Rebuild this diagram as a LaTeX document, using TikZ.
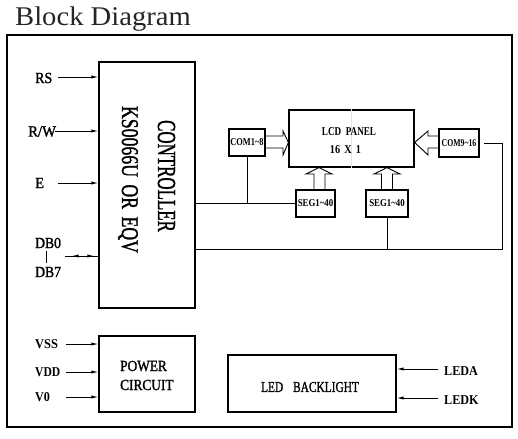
\documentclass[tikz,border=0pt]{standalone}
\usepackage{fontspec}
\setmainfont{Liberation Serif}
\newfontfamily\semib[FakeBold=1.5]{Liberation Serif}
\usepackage{graphicx}
\usetikzlibrary{arrows.meta,decorations.markings}
\newcommand\sx[2]{\scalebox{#1}[1]{#2}}
\begin{document}
\begin{tikzpicture}[x=1pt,y=-1pt,
  box/.style={draw,line width=1.2pt,inner sep=0},
  wire/.style={line width=0.9pt},
  tipA/.tip={Latex[length=7pt,width=3.2pt]},
  inarrow/.style={wire,-tipA},
  txt/.style={inner sep=0},
  biglbl/.style={txt,anchor=west,font=\fontsize{15.5}{15.5}\semib},
  boldlbl/.style={txt,anchor=west,font=\fontsize{13.5}{13.5}\selectfont\bfseries},
  smalllbl/.style={txt,font=\fontsize{10.5}{10.5}\selectfont\bfseries},
  hollow/.style={line width=0.9pt}
]
\useasboundingbox (0,0) rectangle (518,438);
% title
\node[anchor=base west,inner sep=0,font=\fontsize{27}{27}\selectfont,text=black!85] (title) at (15,26) {\sx{1.06}{Block Diagram}};
% frame
\node[draw,line width=1.4pt,inner sep=0,minimum width=505pt,minimum height=392pt] (frame) at (259.5,231) {};

% controller
\node[box,minimum width=96pt,minimum height=246pt] (ctrl) at (147,185) {};
\node[txt,rotate=-90,anchor=base,font=\fontsize{26}{26}\semib] (ctrlA) at (158,176) {\sx{0.65}{CONTROLLER}};
\node[txt,rotate=-90,anchor=base,font=\fontsize{24}{24}\semib] (ctrlB) at (122,179.5) {\sx{0.74}{KS0066U\hspace{10pt}OR\hspace{10pt}EQV}};

% LCD panel
\node[box,minimum width=125pt,minimum height=57pt] (lcd) at (351.5,138.5) {};
\draw[yellow!70!orange!50,line width=0.8pt] (lcd.north) -- (lcd.south);
\node[txt,font=\fontsize{12}{12}\selectfont\bfseries] (lcdA) at (349,132) {\sx{0.76}{LCD\hspace{6pt}PANEL}};
\node[txt,font=\fontsize{12}{12}\selectfont\bfseries] (lcdB) at (345.5,150) {\sx{0.85}{16\hspace{5pt}X\hspace{5pt}1}};

% COM / SEG boxes
\node[box,minimum width=36pt,minimum height=27pt] (com1) at (247,142.5) {};
\node[smalllbl] at (com1) {\sx{0.8}{COM1\textasciitilde 8}};
\node[box,minimum width=40pt,minimum height=28pt] (com9) at (459,143) {};
\node[smalllbl] at (com9) {\sx{0.74}{COM9\textasciitilde 16}};
\node[box,minimum width=39pt,minimum height=27pt] (seg1) at (315.5,203.5) {};
\node[smalllbl] at (seg1) {\sx{0.84}{SEG1\textasciitilde 40}};
\node[box,minimum width=42pt,minimum height=27pt] (seg2) at (387,203.5) {};
\node[smalllbl] at (seg2) {\sx{0.84}{SEG1\textasciitilde 40}};

% hollow arrows
\draw[hollow] (com1.east |- 0,136) -- (283,136) -- (283,131) -- (lcd.west |- 0,142.5) -- (283,155) -- (283,148) -- (com1.east |- 0,148);
\draw[hollow] (com9.west |- 0,136) -- (428,136) -- (428,131) -- (lcd.east |- 0,142.5) -- (428,155) -- (428,148) -- (com9.west |- 0,148);
\draw[hollow] (314,0 |- seg1.north) -- (314,174) -- (306,174) -- (319,0 |- lcd.south) -- (332,174) -- (325,174) -- (325,0 |- seg1.north);
\draw[hollow] (381.5,0 |- seg2.north) -- (381.5,174) -- (374,174) -- (387,0 |- lcd.south) -- (400,174) -- (392.5,174) -- (392.5,0 |- seg2.north);

% wires
\draw[wire] (ctrl.east |- seg1.west) -- (seg1.west);
\draw[wire] (com1.south) -- (com1.south |- seg1.west);
\coordinate (bus) at (502,249);
\draw[wire] (ctrl.east |- bus) -- (bus) -- (bus |- com9.east) -- ([xshift=4pt]com9.east);
\draw[wire] (seg2.south) -- (seg2.south |- bus);

% controller inputs
\coordinate (rsS) at (58,77);
\coordinate (rwS) at (55,131);
\coordinate (eS) at (58,183);
\coordinate (dbS) at (65,256);
\draw[inarrow] (rsS) -- (rsS -| ctrl.west);
\draw[inarrow] (rwS) -- (rwS -| ctrl.west);
\draw[inarrow] (eS) -- (eS -| ctrl.west);
\draw[wire,postaction={decorate},decoration={markings,
  mark=at position 0.2 with {\arrowreversed{tipA}},
  mark=at position 0.88 with {\arrow{tipA}}}] (dbS) -- (dbS -| ctrl.west);
\node[biglbl] (rs) at (35,78) {\sx{0.9}{RS}};
\node[biglbl] (rw) at (28,131.5) {\sx{0.95}{R/W}};
\node[biglbl] (e) at (35,183) {\sx{0.93}{E}};
\node[biglbl] (db0) at (35,243) {\sx{0.88}{DB0}};
\node[biglbl] (db7) at (35,272) {\sx{0.88}{DB7}};
\draw[line width=0.8pt] (46,251) -- (46,263);

% power circuit
\node[box,minimum width=96pt,minimum height=76pt] (power) at (147,374) {};
\node[biglbl] (pA) at (120,366) {\sx{0.86}{POWER}};
\node[biglbl] (pB) at (120,385) {\sx{0.86}{CIRCUIT}};
\coordinate (vssS) at (66,344);
\coordinate (vddS) at (66,372);
\coordinate (v0S) at (66,397);
\draw[inarrow] (vssS) -- (vssS -| power.west);
\draw[inarrow] (vddS) -- (vddS -| power.west);
\draw[inarrow] (v0S) -- (v0S -| power.west);
\node[boldlbl] (vss) at (35,344) {\sx{0.92}{VSS}};
\node[boldlbl] (vdd) at (35,372) {\sx{0.86}{VDD}};
\node[boldlbl] (v0) at (35,397) {\sx{0.9}{V0}};

% LED backlight
\node[box,minimum width=168pt,minimum height=57pt] (led) at (312,383.5) {};
\node[txt,font=\fontsize{15}{15}\semib] (ledT) at (310,387) {\sx{0.76}{LED\hspace{13pt}BACKLIGHT}};
\coordinate (ledaS) at (438,369);
\coordinate (ledkS) at (438,398);
\draw[inarrow] (ledaS) -- (ledaS -| led.east);
\draw[inarrow] (ledkS) -- (ledkS -| led.east);
\node[boldlbl] (leda) at (444,371) {\sx{0.9}{LEDA}};
\node[boldlbl] (ledk) at (444,400) {\sx{0.9}{LEDK}};
\end{tikzpicture}
\end{document}
